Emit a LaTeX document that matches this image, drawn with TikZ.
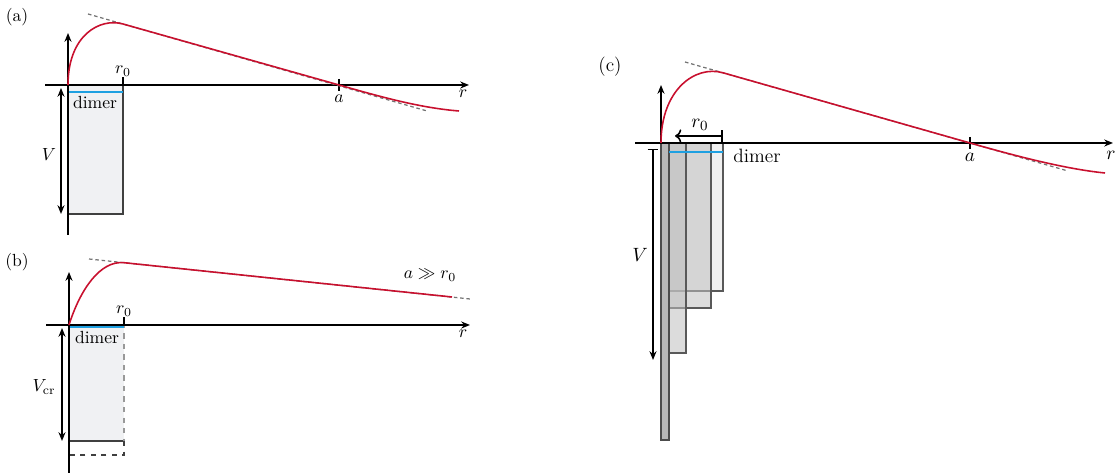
\documentclass[tikz,border=0pt]{standalone}
\usetikzlibrary{arrows.meta,positioning}
\definecolor{wfred}{RGB}{200,16,46}
\definecolor{dimblue}{RGB}{30,160,225}
\definecolor{wellgray}{RGB}{240,241,243}
\begin{document}
\begin{tikzpicture}[x=0.02cm, y=-0.02cm, every node/.style={inner sep=1pt},
  axis/.style={line width=1.1pt, -{Stealth[length=5pt,width=4pt]}},
  wave/.style={wfred, line width=0.9pt},
  asym/.style={black!55, dash pattern=on 2pt off 1.6pt, line width=0.7pt},
  well/.style={fill=wellgray, draw=black!75, line width=0.6pt},
  lvl/.style={dimblue, line width=1.2pt},
  depth/.style={line width=0.8pt, {Stealth[length=5pt,width=4pt]}-{Stealth[length=5pt,width=4pt]}},
  slab/.style={fill=black!25, fill opacity=0.55, draw=black!65, line width=0.6pt},
  bigtxt/.style={font=\fontsize{11}{13}\selectfont}]
\useasboundingbox (0,0) rectangle (1115,475);

% (a)
\node (pa) at (17,17) {(a)};
\coordinate (oa) at (68,85);
\coordinate (ta) at (123,85);
\coordinate (aa) at (339,85);
\filldraw[well] (oa) rectangle (123,214);
\draw[lvl] (68,92) -- (123,92);
\node (dima) at (95,103) {dimer};
\draw[axis] (68,235) -- (68,33);
\draw[axis] (45,85) -- (469,85);
\node (rxa) at (463,94) {$r$};
\draw[line width=0.6pt] (ta) -- ++(0,-8) node[above=-1pt] (r0a) {$r_0$};
\draw[line width=0.6pt] (aa) ++(0,-6) -- ++(0,12) node[below=1pt] (la) {$a$};
\draw[depth] (61,88) -- (61,214);
\node (Va) at (49,155) {$V$};
\draw[asym] (88,14) -- (427,111);
\draw[wave] (oa) .. controls (68,35) and (100,17.5) .. (123,24) -- (aa)
  .. controls (379,96.3) and (419,107.8) .. (459,111);

% (b)
\node (pb) at (17,262) {(b)};
\coordinate (ob) at (69,325);
\coordinate (tb) at (124,325);
\fill[wellgray] (ob) rectangle (124,441);
\draw[black!75, line width=0.6pt] (69,441) -- (124,441);
\draw[black!40, dashed, line width=0.6pt] (ob) -- (tb) -- (124,441);
\draw[black!75, dashed, line width=0.6pt] (124,441) -- (124,455) -- (69,455);
\draw[lvl] (69,327) -- (124,327);
\node (dimb) at (97,338) {dimer};
\draw[axis] (69,473) -- (69,272);
\draw[axis] (46,325) -- (470,325);
\node (rxb) at (463,334) {$r$};
\draw[line width=0.6pt] (tb) -- ++(0,-8) node[above=-1pt] (r0b) {$r_0$};
\draw[depth] (62,328) -- (62,441);
\node (Vb) at (44,387) {$V_{\mathrm{cr}}$};
\draw[asym] (89,259) -- (470,299);
\draw[wave] (ob) .. controls (80,290) and (100,260.2) .. (124,262.7) -- (452,297);
\node (ggb) at (430,275) {$a \gg r_0$};

% (c)
\node[bigtxt] (pc) at (610,67) {(c)};
\coordinate (oc) at (661,143);
\coordinate (ac) at (970,143);
\filldraw[fill=black!6, draw=black!65, line width=0.6pt] (669,143) rectangle (723,291);
\filldraw[slab] (669,143) rectangle (711,308);
\filldraw[slab] (669,143) rectangle (686,353);
\filldraw[fill=black!28, draw=black!70, line width=0.6pt] (oc) rectangle (669,440);
\draw[lvl] (669,152) -- (723,152);
\node[bigtxt] (dimc) at (757,156) {dimer};
\draw[axis] (oc) -- (661,85);
\draw[axis] (635,143) -- (1113,143);
\node[bigtxt] (rxc) at (1111,155) {$r$};
\draw[line width=0.6pt] (ac) ++(0,-6) -- ++(0,12) node[below=1pt,bigtxt] (lc) {$a$};
\draw[line width=0.9pt, <-|] (675,136) -- (723,136);
\node[bigtxt] (r0c) at (700,125) {$r_0$};
\draw[line width=0.8pt, |-{Stealth[length=5pt,width=4pt]}] (653,149) -- (653,360);
\node[bigtxt] (Vc) at (640,255) {$V$};
\draw[asym] (685,62) -- (1068,171);
\draw[wave] (oc) .. controls (661,90) and (695,64.8) .. (723,72.8) -- (ac)
  .. controls (1015,155.8) and (1065,169) .. (1105,173);
\end{tikzpicture}
\end{document}
